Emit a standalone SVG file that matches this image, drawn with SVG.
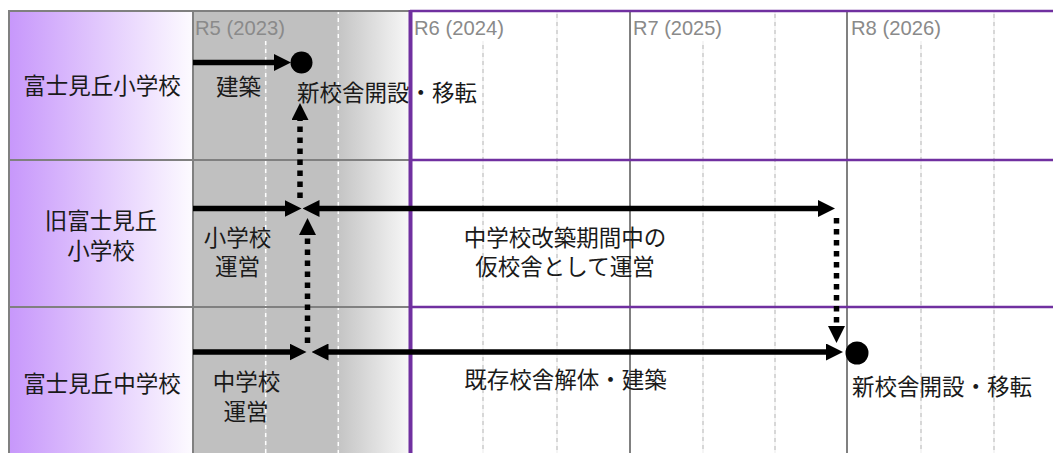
<svg xmlns="http://www.w3.org/2000/svg" width="1053" height="453" viewBox="0 0 1053 453">
<defs>
<linearGradient id="gLeft" x1="0" y1="0" x2="1" y2="0">
<stop offset="0" stop-color="#c797fb"/>
<stop offset="1" stop-color="#fdfbff"/>
</linearGradient>
<linearGradient id="gGray" x1="0" y1="0" x2="1" y2="0">
<stop offset="0" stop-color="#c4c4c4"/>
<stop offset="1" stop-color="#f8f8f8"/>
</linearGradient>
<marker id="ah" markerUnits="userSpaceOnUse" markerWidth="17" markerHeight="17" refX="9" refY="8.5" orient="auto-start-reverse" viewBox="0 0 17 17">
<path d="M0,0 L17,8.5 L0,17 Z" fill="#000"/>
</marker>
<style>
.t{font-family:"Noto Sans CJK JP","Noto Sans CJK SC",sans-serif;font-size:22.5px;fill:#1a1a1a}
.c{text-anchor:middle}
.yr{font-family:"Liberation Sans Narrow","Liberation Sans",Arial,sans-serif;font-size:21px;fill:#8a8a8a}
.gl{stroke:#808080;stroke-width:2;fill:none}
.pl{stroke:#7030a0;stroke-width:2.5;fill:none}
.db{stroke:#cacaca;stroke-width:1.5}
.dw{stroke:#ffffff;stroke-width:1.5;stroke-dasharray:4 4}
.sol{stroke:#000;stroke-width:5.5;fill:none}
.dot{stroke:#000;stroke-width:5.5;fill:none;stroke-dasharray:5.5 5.5}
</style>
</defs>
<g id="background">
<rect x="0" y="0" width="1053" height="453" fill="#ffffff"/>
<rect x="9" y="10" width="184" height="443" fill="url(#gLeft)"/>
<rect x="193" y="10" width="146" height="443" fill="#c0c0c0"/>
<rect x="338" y="10" width="72" height="443" fill="url(#gGray)"/>
</g>
<g id="year-labels">
<text class="yr" x="195" y="35" textLength="90" lengthAdjust="spacingAndGlyphs">R5 (2023)</text>
<text class="yr" x="414" y="35" textLength="90" lengthAdjust="spacingAndGlyphs">R6 (2024)</text>
<text class="yr" x="633" y="35" textLength="89" lengthAdjust="spacingAndGlyphs">R7 (2025)</text>
<text class="yr" x="851" y="35" textLength="90" lengthAdjust="spacingAndGlyphs">R8 (2026)</text>
</g>
<g id="row1-label"><text class="t c" x="102" y="93.5">富士見丘小学校</text></g>
<g id="row2-label"><text class="t c" x="101" y="228.5">旧富士見丘</text><text class="t c" x="101" y="258.5">小学校</text></g>
<g id="row3-label"><text class="t c" x="102" y="392">富士見丘中学校</text></g>
<g id="grid">
<line class="db" x1="265.7" y1="41" x2="265.7" y2="453"/><line class="dw" x1="265.7" y1="41" x2="265.7" y2="453"/>
<line class="db" x1="338.3" y1="10" x2="338.3" y2="453"/><line class="dw" x1="338.3" y1="10" x2="338.3" y2="453"/>
<line class="db" x1="483" y1="41" x2="483" y2="453"/><line class="dw" x1="483" y1="41" x2="483" y2="453"/>
<line class="db" x1="557" y1="10" x2="557" y2="453"/><line class="dw" x1="557" y1="10" x2="557" y2="453"/>
<line class="db" x1="703" y1="41" x2="703" y2="453"/><line class="dw" x1="703" y1="41" x2="703" y2="453"/>
<line class="db" x1="775" y1="10" x2="775" y2="453"/><line class="dw" x1="775" y1="10" x2="775" y2="453"/>
<line class="db" x1="921" y1="41" x2="921" y2="453"/><line class="dw" x1="921" y1="41" x2="921" y2="453"/>
<line class="db" x1="994" y1="10" x2="994" y2="453"/><line class="dw" x1="994" y1="10" x2="994" y2="453"/>
<line class="gl" x1="630" y1="10" x2="630" y2="453"/>
<line class="gl" x1="847" y1="10" x2="847" y2="453"/>
<line class="gl" x1="9" y1="10" x2="9" y2="453"/>
<line class="gl" x1="193" y1="10" x2="193" y2="453"/>
<line class="gl" x1="8" y1="11" x2="410" y2="11"/>
<line class="gl" x1="8" y1="160" x2="410" y2="160"/>
<line class="gl" x1="8" y1="307" x2="410" y2="307"/>
<line class="pl" x1="410" y1="11" x2="1053" y2="11"/>
<line class="pl" x1="410" y1="160" x2="1053" y2="160"/>
<line class="pl" x1="410" y1="307" x2="1053" y2="307"/>
</g>
<g id="task-labels">
<text class="t c" x="238.5" y="95">建築</text>
<text class="t" x="297" y="101">新校舎開設・移転</text>
<text class="t c" x="237.5" y="245.5">小学校</text>
<text class="t c" x="237.5" y="275">運営</text>
<text class="t c" x="565" y="245.5">中学校改築期間中の</text>
<text class="t c" x="565" y="275">仮校舎として運営</text>
<text class="t c" x="246.5" y="389.5">中学校</text>
<text class="t c" x="246" y="419.5">運営</text>
<text class="t c" x="565.5" y="387.5">既存校舎解体・建築</text>
<text class="t" x="852" y="395">新校舎開設・移転</text>
</g>
<g id="divider"><line x1="410.5" y1="10" x2="410.5" y2="453" stroke="#7030a0" stroke-width="4"/></g>
<g id="connectors">
<line class="sol" x1="193" y1="62.5" x2="283" y2="62.5" marker-end="url(#ah)"/>
<circle cx="301.5" cy="62.5" r="11" fill="#000"/>
<line class="dot" x1="300" y1="198" x2="300" y2="111" marker-end="url(#ah)"/>
<line class="sol" x1="193" y1="208.5" x2="293.5" y2="208.5" marker-end="url(#ah)"/>
<line class="sol" x1="310.5" y1="208.5" x2="827" y2="208.5" marker-start="url(#ah)" marker-end="url(#ah)"/>
<line class="dot" x1="307.5" y1="343" x2="307.5" y2="226" marker-end="url(#ah)"/>
<line class="dot" x1="836.5" y1="218" x2="836.5" y2="335" marker-end="url(#ah)"/>
<line class="sol" x1="193" y1="352" x2="298.5" y2="352" marker-end="url(#ah)"/>
<line class="sol" x1="319.5" y1="352" x2="835" y2="352" marker-start="url(#ah)" marker-end="url(#ah)"/>
<circle cx="857" cy="353" r="11.5" fill="#000"/>
</g>
</svg>
